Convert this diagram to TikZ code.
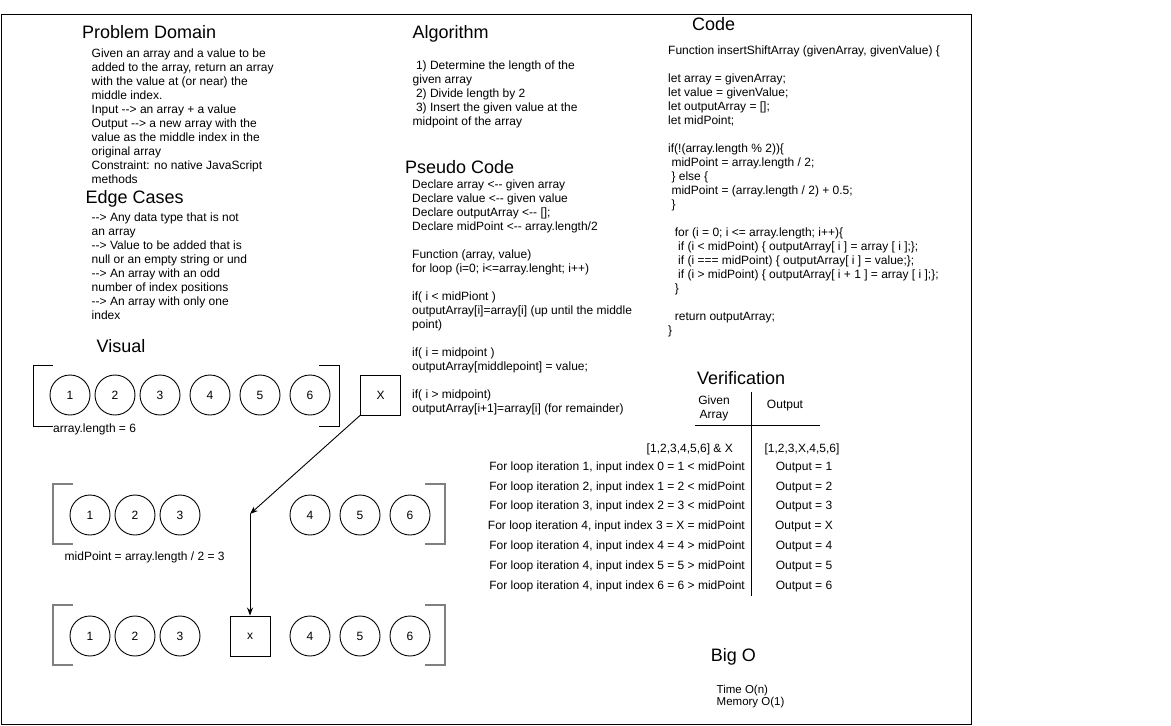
\documentclass[tikz,border=0pt]{standalone}
\usepackage{fontspec}
\setmainfont{Liberation Sans}[Ligatures=TeXOff]
\usetikzlibrary{arrows.meta}
\definecolor{bgray}{RGB}{128,128,128}
\newcommand\myind[1]{\hspace*{#1\fontdimen2\font}}
\begin{document}
\begin{tikzpicture}[x=1pt,y=-1pt,
  hd/.style={font=\fontsize{18}{21}\selectfont, inner sep=0pt, anchor=base west},
  body/.style={font=\fontsize{12}{14}\selectfont, inner sep=0pt, anchor=north west, align=left},
  txt/.style={font=\fontsize{12}{14}\selectfont, inner sep=0pt},
  elem/.style={circle, draw, line width=0.9pt, minimum size=40pt, inner sep=0pt, font=\fontsize{12}{14}\selectfont},
  valbox/.style={draw, line width=0.9pt, minimum size=40pt, inner sep=0pt, font=\fontsize{12}{14}\selectfont},
  brk/.style={line width=0.9pt},
  gbrk/.style={line width=1.6pt, draw=bgray},
  conn/.style={line width=0.9pt, -{Stealth[length=8pt,width=6pt]}},
  rulel/.style={line width=0.9pt}
]
\useasboundingbox (0,0) rectangle (1171,726);
\draw[rulel] (1,14.5) rectangle (971,724.5);

% ---------- Problem Domain ----------
\node[hd] (pdh) at (82,38) {Problem Domain};
\node[body] (pdb) at (91.5,47.7) {\strut Given an array and a value to be\\
added to the array, return an array\\
with the value at (or near) the\\
middle index.\\
Input --> an array + a value\\
Output --> a new array with the\\
value as the middle index in the\\
original array\\
Constraint: no native JavaScript\\
methods};

% ---------- Edge Cases ----------
\node[hd] (ech) at (85.5,203) {Edge Cases};
\node[body] (ecb) at (91.5,211.2) {\strut --> Any data type that is not\\
an array\\
--> Value to be added that is\\
null or an empty string or und\\
--> An array with an odd\\
number of index positions\\
--> An array with only one\\
index};

% ---------- Algorithm ----------
\node[hd] (algh) at (412.5,38) {Algorithm};
\node[body] (algb) at (412.5,59.2) {\strut\myind{1}1) Determine the length of the\\
given array\\
\myind{1}2) Divide length by 2\\
\myind{1}3) Insert the given value at the\\
midpoint of the array};

% ---------- Pseudo Code ----------
\node[hd] (psh) at (404.8,173) {Pseudo Code};
\node[body] (psb) at (412,178.2) {\strut Declare array <-- given array\\
Declare value <-- given value\\
Declare outputArray <-- [];\\
Declare midPoint <-- array.length/2\\
~\\
Function (array, value)\\
for loop (i=0; i<=array.lenght; i++)\\
~\\
if( i < midPiont )\\
outputArray[i]=array[i] (up until the middle\\
point)\\
~\\
if( i = midpoint )\\
outputArray[middlepoint] = value;\\
~\\
if( i > midpoint)\\
outputArray[i+1]=array[i] (for remainder)};

% ---------- Code ----------
\node[hd] (codeh) at (692,30) {Code};
\node[body] (codeb) at (668,44.2) {\strut Function insertShiftArray (givenArray, givenValue) \{\\
~\\
let array = givenArray;\\
let value = givenValue;\\
let outputArray = [];\\
let midPoint;\\
~\\
if(!(array.length \% 2))\{\\
\myind{1}midPoint = array.length / 2;\\
\myind{1}\} else \{\\
\myind{1}midPoint = (array.length / 2) + 0.5;\\
\myind{1}\}\\
~\\
\myind{2}for (i = 0; i <= array.length; i++)\{\\
\myind{3}if (i < midPoint) \{ outputArray[ i ] = array [ i ];\};\\
\myind{3}if (i === midPoint) \{ outputArray[ i ] = value;\};\\
\myind{3}if (i > midPoint) \{ outputArray[ i + 1 ] = array [ i ];\};\\
\myind{2}\}\\
~\\
\myind{2}return outputArray;\\
\}};

% ---------- Verification ----------
\node[hd] (verh) at (697,384.5) {Verification};
\node[txt, anchor=north, align=center, font=\fontsize{12}{13.5}\selectfont] (given) at (714,395.05) {\strut Given\\Array};
\node[txt, anchor=base] (outh) at (785,408.6) {Output};
\coordinate (vtop) at (751,392);
\coordinate (vbot) at (751,596);
\coordinate (hl) at (695,425);
\coordinate (hr) at (820,425);
\draw[rulel] (vtop) -- (vbot);
\draw[rulel] (hl) -- (hr);

\node[txt, anchor=base east] (r0) at (733,452.3) {[1,2,3,4,5,6] \& X};
\node[txt, anchor=base] (o0) at (802,452.3) {[1,2,3,X,4,5,6]};
\node[txt, anchor=base east] (r1) at (745,470.7) {For loop iteration 1, input index 0 = 1 < midPoint};
\node[txt, anchor=base east] (r2) at (745,490.7) {For loop iteration 2, input index 1 = 2 < midPoint};
\node[txt, anchor=base east] (r3) at (745,509.7) {For loop iteration 3, input index 2 = 3 < midPoint};
\node[txt, anchor=base east] (r4) at (745,529.7) {For loop iteration 4, input index 3 = X = midPoint};
\node[txt, anchor=base east] (r5) at (745,549.7) {For loop iteration 4, input index 4 = 4 > midPoint};
\node[txt, anchor=base east] (r6) at (745,569.7) {For loop iteration 4, input index 5 = 5 > midPoint};
\node[txt, anchor=base east] (r7) at (745,589.7) {For loop iteration 4, input index 6 = 6 > midPoint};
\node[txt, anchor=base] (o1) at (804,470.7) {Output = 1};
\node[txt, anchor=base] (o2) at (804,490.7) {Output = 2};
\node[txt, anchor=base] (o3) at (804,509.7) {Output = 3};
\node[txt, anchor=base] (o4) at (804,529.7) {Output = X};
\node[txt, anchor=base] (o5) at (804,549.7) {Output = 4};
\node[txt, anchor=base] (o6) at (804,569.7) {Output = 5};
\node[txt, anchor=base] (o7) at (804,589.7) {Output = 6};

% ---------- Big O ----------
\node[hd] (bigoh) at (710.7,661) {Big O};
\node[body, font=\fontsize{11.5}{12.5}\selectfont] (bigob) at (716.5,684.25) {\strut Time O(n)\\Memory O(1)};

% ---------- Visual ----------
\node[hd] (vish) at (96.5,352) {Visual};

% array 1
\draw[brk] (53,365) -- (33,365) -- (33,426) -- (53,426);
\draw[brk] (319,365) -- (339,365) -- (339,426) -- (319,426);
\foreach \n/\xx in {1/70,2/115,3/160,4/210,5/260,6/310}
  \node[elem] (a\n) at (\xx,395) {\n};
\node[valbox] (xbox) at (380.5,395) {X};
\node[txt, anchor=base west] (alen) at (53,432.5) {array.length = 6};

% array 2
\draw[gbrk] (73,484) -- (53,484) -- (53,544) -- (73,544);
\draw[gbrk] (425,484) -- (445,484) -- (445,544) -- (425,544);
\foreach \n/\xx in {1/90,2/135,3/180,4/310,5/360,6/410}
  \node[elem] (b\n) at (\xx,515) {\n};
\node[txt, anchor=base west] (mlen) at (64.5,560) {midPoint = array.length / 2 = 3};

% array 3
\draw[gbrk] (73,605) -- (53,605) -- (53,665) -- (73,665);
\draw[gbrk] (425,605) -- (445,605) -- (445,665) -- (425,665);
\foreach \n/\xx in {1/90,2/135,3/180,4/310,5/360,6/410}
  \node[elem] (c\n) at (\xx,636) {\n};
\node[valbox] (xb3) at (250,636) {x};

% connectors
\coordinate (mid) at (250,514);
\draw[conn] (xbox.south west) -- (mid);
\draw[conn] (mid) -- (xb3.north);
\end{tikzpicture}
\end{document}
